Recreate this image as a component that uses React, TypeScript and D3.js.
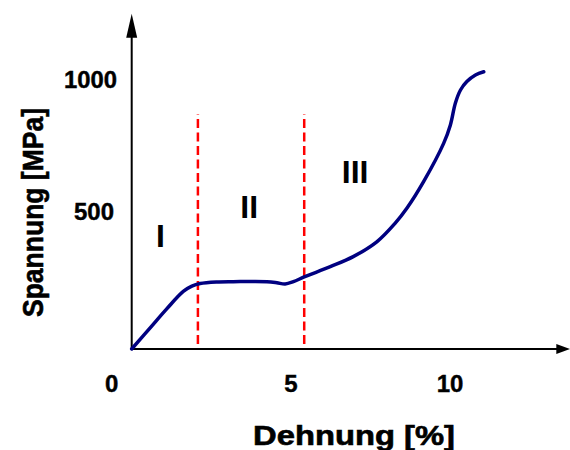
import React from 'react'
import * as d3 from 'd3'

// stress-strain curve
const strain = [0, 0.58, 1.1, 1.62, 1.89, 2.15, 2.67, 3.19, 4.25, 4.56, 4.82, 5.08, 5.42, 6.24, 6.96, 7.7, 8.28, 8.65, 9.17, 9.8, 10.01, 10.17, 10.33, 10.53, 10.8, 11.06]
const stress = [0, 80, 152, 218, 238, 248, 254, 255, 255, 251, 246, 255, 273, 312, 350, 406, 477, 534, 634, 779, 848, 932, 981, 1013, 1038, 1050]

const xTicks = [0, 5, 10]
const yTicks = [500, 1000]

const boundaries = [2.08, 5.42]
const boundaryRange = [19, 890]

const regionNames = ['I', 'II', 'III']
const regionX = [0.9, 3.69, 7.02]
const regionY = [386, 496, 629]

const xAxisEnd = 13.78
const yAxisEnd = 1270

const W = 570
const H = 450
const font = '"Liberation Sans", Arial, sans-serif'

const App = () => {
  const x = d3.scaleLinear().domain([0, 10]).range([131.7, 450])
  const y = d3.scaleLinear().domain([0, 1000]).range([349, 85])

  const points: [number, number][] = strain.map((s, i) => [s, stress[i]])
  const line = d3
    .line<[number, number]>()
    .x(d => x(d[0]))
    .y(d => y(d[1]))
    .curve(d3.curveCatmullRom.alpha(0.5))

  const x0 = x(0)
  const y0 = y(0)
  const xe = x(xAxisEnd)
  const ye = y(yAxisEnd)

  return (
    <svg width={W} height={H} style={{ position: 'absolute', left: 0, top: 0 }} fontFamily={font} fontWeight="bold">
      <rect width={W} height={H} fill="white" />

      {/* axes with arrow heads */}
      <line x1={x0} y1={y0} x2={x0} y2={ye + 22} stroke="black" strokeWidth={2} />
      <path d={`M${x0},${ye} L${x0 - 5.5},${ye + 24} L${x0 + 5.5},${ye + 24} Z`} fill="black" />
      <line x1={x0} y1={y0} x2={xe - 12} y2={y0} stroke="black" strokeWidth={2} />
      <path d={`M${xe},${y0} L${xe - 14},${y0 - 5} L${xe - 14},${y0 + 5} Z`} fill="black" />

      {/* region boundaries */}
      {boundaries.map(b => (
        <line
          key={b}
          x1={x(b)}
          x2={x(b)}
          y1={y(boundaryRange[0])}
          y2={y(boundaryRange[1])}
          stroke="#ff0000"
          strokeWidth={2.5}
          strokeDasharray="9,4.5"
        />
      ))}

      <path d={line(points) || ''} fill="none" stroke="#000080" strokeWidth={3.5} strokeLinejoin="round" strokeLinecap="round" />

      {regionNames.map((n, i) => (
        <text key={n} x={x(regionX[i])} y={y(regionY[i])} textAnchor="middle" fontSize={32}>
          {n}
        </text>
      ))}

      {xTicks.map(t => (
        <text key={t} x={x(t) + (t === 0 ? -20 : 0)} y={391.5} textAnchor="middle" fontSize={24} stroke="black" strokeWidth={0.4}>
          {t}
        </text>
      ))}
      {yTicks.map(t => (
        <text key={t} x={t === 1000 ? 117 : 114} y={y(t) + 3} textAnchor="end" fontSize={23} textLength={t === 1000 ? 53 : 40} lengthAdjust="spacingAndGlyphs" stroke="black" strokeWidth={0.4}>
          {t}
        </text>
      ))}

      <text x={354} y={445} textAnchor="middle" fontSize={27} textLength={202} lengthAdjust="spacingAndGlyphs" stroke="black" strokeWidth={0.6}>
        Dehnung [%]
      </text>
      <text
        transform="translate(43,212.5) rotate(-90)"
        textAnchor="middle"
        fontSize={30}
        textLength={209}
        lengthAdjust="spacingAndGlyphs"
        stroke="black"
        strokeWidth={0.6}
      >
        Spannung [MPa]
      </text>
    </svg>
  )
}

export default App
